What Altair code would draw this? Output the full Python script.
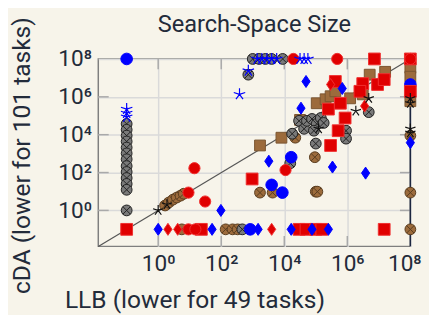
import altair as alt
import numpy as np
import pandas as pd

TXT = "#232b3a"
BG = "#f7f4ea"
FONT = "Roboto"
LO, HI = -1.9, 8.0

# ---- data (log10 exponents) ----
gray_x = [-1]*13 + [3.0, 3.2, 3.4, 3.6, 3.95, 2.86,
          4.25, 4.47, 4.63, 4.72, 4.88, 5.03, 5.16, 5.25, 4.94, 5.0, 5.96, 5.96, 6.68, 4.19, 2.67]
gray_y = [4.57, 4.26, 3.95, 3.64, 3.32, 3.01, 2.70, 2.34, 2.03, 1.71, 1.40, 1.09, 0.0,
          8, 8, 8, 8, 8, 7.17,
          4.05, 4.73, 4.31, 4.73, 4.83, 4.57, 4.88, 4.62, 4.21, 3.53, 4.21, 3.79, 5.19, 2.49, -1]

brownc_x = [0.22, 0.34, 0.47, 0.59, 0.71, 0.81, 0.75, 2.14, 2.36, 2.52,
            3.23, 3.63, 4.97, 5.0, 5.05, 4.35, 8, 8, 8]
brownc_y = [0.26, 0.42, 0.57, 0.68, 0.78, 0.88, -1, -1, -1, -1,
            0.94, 0.94, 2.81, 0.99, 0.99, 3.84, 3.95, 0.94, -1]

browns_x = [3.23, 3.91, 4.5, 5.03, 5.31, 5.47, 5.62, 6.09, 6.49, 6.71, 7.2, 8, 8, 8]
browns_y = [3.43, 3.84, 4.78, 5.66, 5.87, 6.03, 6.29, 5.92, 6.13, 7.17, 7.32, 7.53, 7.06, 5.77]

reds_x = [6.86, 8, 5.62, 6.49, 6.96, 7.17, 6.40, 5.78, 5.40, 5.93, 5.71, 5.47, 8, 2.98,
          -1, 1.37, 4.47, 4.69, 5.0, 5.19, 7.17]
reds_y = [8, 8, 6.81, 6.70, 6.65, 6.91, 6.29, 5.66, 5.35, 4.88, 4.21, 3.43, 6.29, 1.66,
          -1, -1, -1, -1, -1, -1, -1]

redc_x = [4.29, 5.68, 8, 1.15, 0.96, 1.49, 4.04, 0.96, 1.18]
redc_y = [8, 8, 8, 2.23, 0.94, 0.47, 2.13, -1, -1]

bluec_x = [-1, 4.22, 3.60, 3.94, 8, 2.92]
bluec_y = [8, 2.81, 1.35, 0.94, 6.65, -1]

blued_x = [4.69, 4.53, 5.84, 1.99, 3.51, 5.53, 6.58, 8, 0, 1.71, 3.17, 4.22, 4.88, 5.40]
blued_y = [6.81, 5.40, 6.44, 0, 2.60, 2.29, 1.97, 3.58, -1, -1, -1, -1, -1, -1]

redd_x = [5.47, 6.55, 0.31, 0.62, 3.60]
redd_y = [6.65, 5.51, -1, -1, -1]

blues_x = [-1, -1, -1, 2.58, 2.86, 3.14, 3.29, 3.45, 3.60, 3.76, 4.50, 4.63, 4.75]
blues_y = [5.35, 5.14, 4.94, 6.13, 7.38, 8, 8, 8, 8, 8, 8, 8, 8]

blacks_x = [0, 0.28, 6.27, 6.68, 5.09, 8, 8, 8, 8]
blacks_y = [0, 0.31, 5.25, 5.92, 4.31, 5.92, 5.66, 4.31, 4.10]

diag = [LO, HI]
rline_y = [LO, 5.9]
tick_dec = [0, 2, 4, 6]

# ---- scales / axes ----
xs = alt.Scale(type="log", domain=[10**LO, 10**HI], nice=False)
ys = alt.Scale(type="log", domain=[10**LO, 10**HI], nice=False)
lab = "'10' + ['\u2070','\u00b9','\u00b2','\u00b3','\u2074','\u2075','\u2076','\u2077','\u2078'][round(log(datum.value)/LN10)]"
common = dict(values=[1, 1e2, 1e4, 1e6, 1e8], labelExpr=lab, grid=True, gridColor="#dadada",
              gridWidth=1.5, ticks=False, domain=False, labelFont=FONT, labelFontSize=23,
              labelColor=TXT, labelOverlap=False, titleFont=FONT,
              titleFontSize=25, titleFontWeight="normal", titleColor=TXT)
xaxis = alt.Axis(title="LLB (lower for 49 tasks)", labelPadding=7, titleX=98, titleY=62,
                 titleBaseline="alphabetic", titleAlign="center",
                 labelFlush=True, labelFlushOffset=11, **common)
yaxis = alt.Axis(title="cDA (lower for 101 tasks)", labelPadding=7, titleX=-70, titleY=98,
                 titleAngle=270, titleBaseline="alphabetic", titleAlign="center",
                 labelFlush=False, **common)
X = alt.X("x:Q", scale=xs, axis=xaxis)
Y = alt.Y("y:Q", scale=ys, axis=yaxis)

def df(lx, ly):
    return pd.DataFrame({"x": np.power(10.0, lx), "y": np.power(10.0, ly)})

OX = "M-1,0A1,1,0,1,0,1,0A1,1,0,1,0,-1,0Z M-0.7,-0.7L0.7,0.7M-0.7,0.7L0.7,-0.7"
DIA = "M0,-1L0.68,0L0,1L-0.68,0Z"
STAR = "M0,0L0,-1M0,0L0.951,-0.309M0,0L0.588,0.809M0,0L-0.588,0.809M0,0L-0.951,-0.309"

def pts(lx, ly, shape, size, fill, stroke, sw=1.0, filled=True):
    kw = dict(shape=shape, size=size, stroke=stroke, strokeWidth=sw, opacity=1, filled=filled)
    if filled:
        kw["fill"] = fill
        kw["fillOpacity"] = 1
    return alt.Chart(df(lx, ly)).mark_point(**kw).encode(x=X, y=Y)

# decorative inner ticks and diagonal
lt = pd.DataFrame({"y": np.power(10.0, tick_dec), "x": 10**LO, "x2": 10**(LO + 0.33)})
rt = pd.DataFrame({"y": np.power(10.0, tick_dec), "x": 10**(HI - 0.33), "x2": 10**HI})
bt = pd.DataFrame({"x": np.power(10.0, tick_dec), "y": 10**LO, "y2": 10**(LO + 0.55)})
tt = pd.DataFrame({"x": np.power(10.0, tick_dec), "y": 10**(HI - 0.55), "y2": 10**HI})
tk = dict(color="#a9a9a9", strokeWidth=1.5)
ticks = [
    alt.Chart(lt).mark_rule(**tk).encode(x=X, x2="x2", y=Y),
    alt.Chart(rt).mark_rule(**tk).encode(x=X, x2="x2", y=Y),
    alt.Chart(bt).mark_rule(**tk).encode(x=X, y=Y, y2="y2"),
    alt.Chart(tt).mark_rule(**tk).encode(x=X, y=Y, y2="y2"),
]
diag_line = alt.Chart(df(diag, diag)).mark_line(color="#555555", strokeWidth=1.2).encode(x=X, y=Y)
rline = alt.Chart(df([HI, HI], rline_y)).mark_line(color="#1c2640", strokeWidth=1.5).encode(x=X, y=Y)

layers = ticks + [diag_line, rline,
    pts(browns_x, browns_y, "square", 121, "#9c6b3c", "#7a5530"),
    pts(brownc_x, brownc_y, OX, 121, "#9c6b3c", "#5a3d20"),
    pts(gray_x, gray_y, OX, 121, "#7a7a7a", "#222222"),
    pts(bluec_x, bluec_y, "circle", 140, "#0000ff", "#0000ff"),
    pts(reds_x, reds_y, "square", 144, "#e00000", "#f03030"),
    pts(redc_x, redc_y, "circle", 130, "#e00000", "#f03030"),
    pts(redd_x, redd_y, DIA, 150, "#e00000", "#f03030"),
    pts(blued_x, blued_y, DIA, 150, "#0000ff", "#0000ff"),
    pts(blues_x, blues_y, STAR, 150, None, "#0000ff", 1.2, False),
    pts(blacks_x, blacks_y, STAR, 120, None, "#111111", 1.2, False),
]

chart = alt.layer(*layers).properties(
    width=318, height=191,
    autosize=alt.AutoSizeParams(type="none"),
    padding={"left": 92, "top": 49, "right": 19, "bottom": 67},
    background=BG,
    title=alt.Title("Search-Space Size", font=FONT, fontSize=24, fontWeight="normal",
                    color=TXT, anchor="middle", frame="group", offset=0, dy=21),
).configure_view(stroke="#7f7f7f", strokeWidth=1.5, fill=BG)

chart.save("out.html", embed_options={"renderer": "svg", "actions": False})
